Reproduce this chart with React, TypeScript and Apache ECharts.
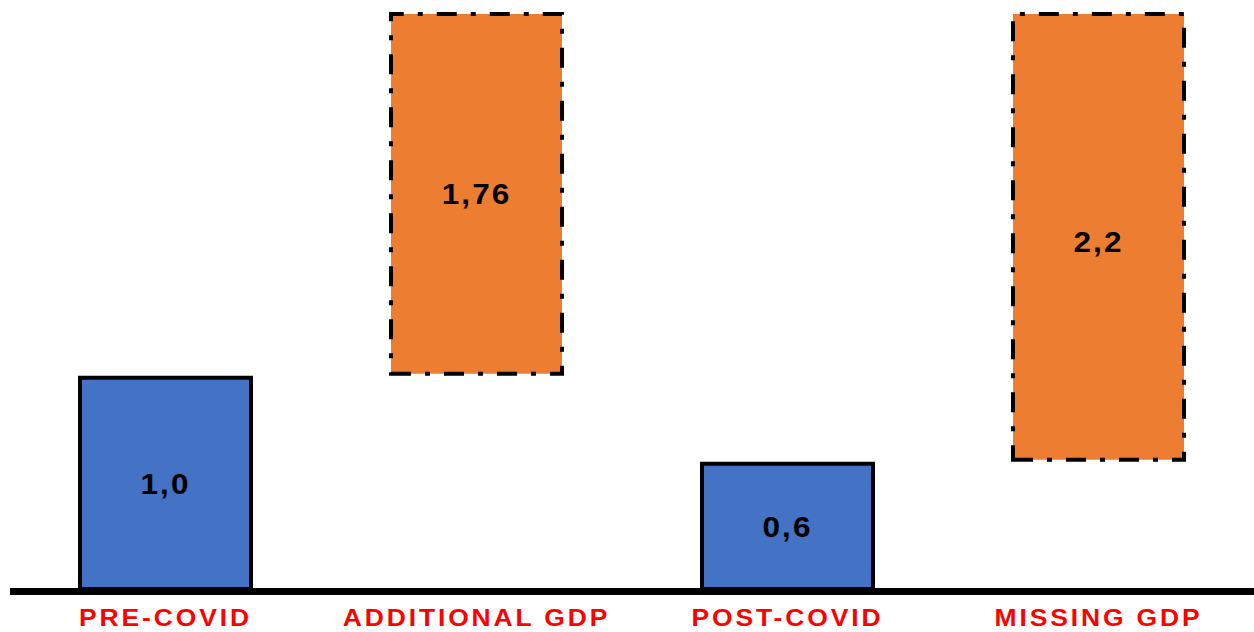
import React, { useEffect, useRef } from "react";
import * as echarts from "echarts";

const categories = ["PRE-COVID", "ADDITIONAL GDP", "POST-COVID", "MISSING GDP"];
const baseValues = [0, 1.0, 0, 0.6];
const barValues = [1.0, 1.69, 0.6, 2.09];
const valueLabels = ["1,0", "1,76", "0,6", "2,2"];
const barKinds = ["solid", "dashed", "solid", "dashed"];
const yMax = 2.69;

const BLUE = "#4472C4";
const ORANGE = "#ED7D31";

export default function App() {
  const ref = useRef<HTMLDivElement>(null);
  useEffect(() => {
    if (!ref.current) return;
    const chart = echarts.init(ref.current, null, { renderer: "svg" });
    const font = "Arial, 'Liberation Sans', sans-serif";
    chart.setOption({
      animation: false,
      grid: { left: 10, width: 1246, top: 12, bottom: 41 },
      xAxis: {
        type: "category",
        data: categories,
        axisLine: { show: true, lineStyle: { color: "#000000", width: 7, cap: "butt" } },
        axisTick: { show: false },
        axisLabel: {
          interval: 0,
          color: "#ff0000",
          fontFamily: font,
          fontWeight: "bold",
          fontSize: 23,
          margin: 15,
        },
      },
      yAxis: {
        type: "value",
        min: 0,
        max: yMax,
        show: false,
        splitLine: { show: false },
      },
      series: [
        {
          type: "bar",
          stack: "w",
          data: baseValues,
          barWidth: 175,
          silent: true,
          itemStyle: { color: "transparent", borderWidth: 0 },
          emphasis: { disabled: true },
        },
        {
          type: "bar",
          stack: "w",
          barWidth: 175,
          silent: true,
          emphasis: { disabled: true },
          data: barValues.map((v, i) => ({
            value: v,
            itemStyle:
              barKinds[i] === "solid"
                ? { color: BLUE, borderColor: "#000000", borderWidth: 4, borderType: "solid" }
                : {
                    color: ORANGE,
                    borderColor: "#000000",
                    borderWidth: 4,
                    borderType: [20, 14, 5, 14],
                  },
            label: i === 3 ? { offset: [0, 5] } : {},
          })),
          label: {
            show: true,
            position: "inside",
            color: "#000000",
            fontFamily: font,
            fontWeight: "bold",
            fontSize: 30,
            formatter: (p: any) => valueLabels[p.dataIndex],
          },
        },
      ],
    });
    const stretch = () => {
      const texts = ref.current?.querySelectorAll("text") || [];
      texts.forEach((t: any) => {
        const c = (t.textContent || "").trim();
        let k = 0;
        let sp = 0;
        if (categories.includes(c)) {
          k = 1.15;
          sp = 2.5;
        } else if (valueLabels.includes(c)) {
          k = 1.05;
          sp = 2;
        }
        if (!k) return;
        t.removeAttribute("textLength");
        t.style.letterSpacing = sp + "px";
        const len = t.getComputedTextLength ? t.getComputedTextLength() : 0;
        if (len > 0) {
          t.setAttribute("textLength", String(len * k));
          t.setAttribute("lengthAdjust", "spacingAndGlyphs");
        }
      });
    };
    stretch();
    chart.on("finished", stretch);
    return () => {
      chart.dispose();
    };
  }, []);
  return (
    <div
      ref={ref}
      style={{ position: "absolute", left: 0, top: 0, width: 1254, height: 632, background: "#ffffff" }}
    />
  );
}
